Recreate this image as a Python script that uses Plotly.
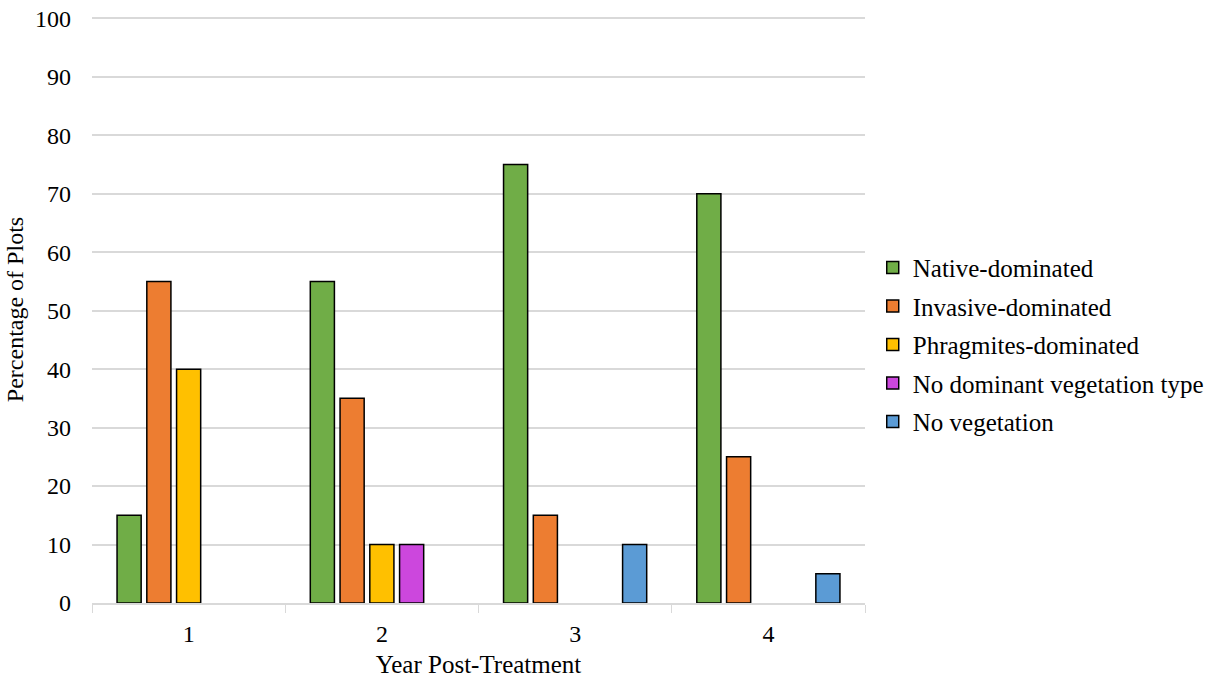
import plotly.graph_objects as go

years = ["1", "2", "3", "4"]
native = [15, 55, 75, 70]
invasive = [55, 35, 15, 25]
phragmites = [40, 10, 0, 0]
no_dominant = [0, 10, 0, 0]
no_vegetation = [0, 0, 10, 5]

series = [
    ("Native-dominated", native, "#70ad47"),
    ("Invasive-dominated", invasive, "#ed7d31"),
    ("Phragmites-dominated", phragmites, "#ffc000"),
    ("No dominant vegetation type", no_dominant, "#cc47dd"),
    ("No vegetation", no_vegetation, "#5b9bd5"),
]

font_family = "Liberation Serif, Times New Roman, serif"

fig = go.Figure()
for i, (name, vals, color) in enumerate(series):
    # zero shares keep their slot in the group but draw nothing
    shown = [v if v > 0 else None for v in vals]
    fig.add_trace(go.Bar(
        x=years, y=shown, name=name, legendgroup=f"g{i}",
        marker=dict(color=color, line=dict(color="black", width=1.5)),
    ))

fig.update_layout(
    width=1208, height=682,
    margin=dict(l=92, r=343, t=16, b=79, autoexpand=False),
    paper_bgcolor="white", plot_bgcolor="white",
    barmode="group", bargap=0.23, bargroupgap=0.19,
    font=dict(family=font_family, size=24, color="black"),
    legend=dict(
        x=1.01, y=0.44, xanchor="left", yanchor="middle",
        font=dict(family=font_family, size=25, color="black"),
        tracegroupgap=3, itemwidth=30,
    ),
    showlegend=True,
)
fig.update_xaxes(
    title=dict(text="Year Post-Treatment", font=dict(size=25), standoff=10),
    showline=True, linecolor="#d9d9d9", linewidth=1.5, automargin=False,
    ticks="outside", tickson="boundaries", ticklen=8, tickcolor="#d9d9d9",
    showgrid=False, tickfont=dict(size=24), ticklabelstandoff=8,
)
fig.update_yaxes(
    title=dict(text="Percentage of Plots", font=dict(size=24), standoff=4),
    range=[0, 100.4], dtick=10, showgrid=True, gridcolor="#d9d9d9", gridwidth=1.5,
    zeroline=False, showline=False, automargin=False,
    tickfont=dict(size=24), ticklabelstandoff=20,
)

fig.write_html("out.html")
